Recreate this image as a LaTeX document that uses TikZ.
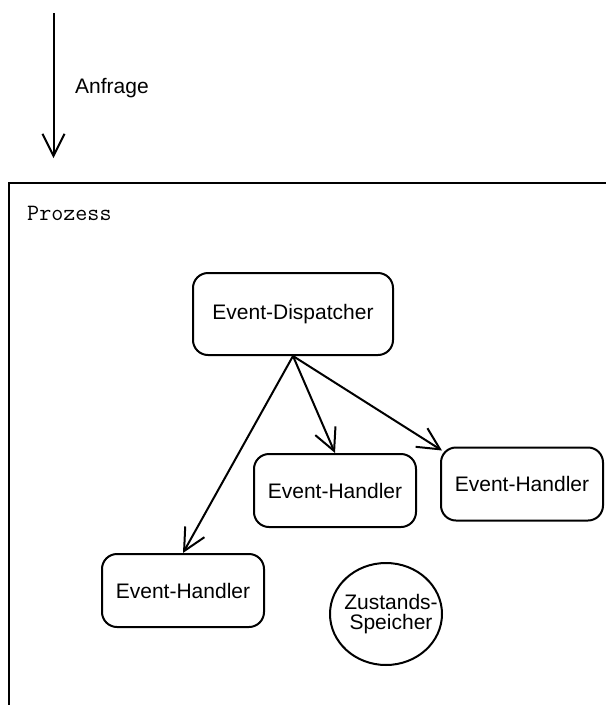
\documentclass[tikz,border=0pt]{standalone}
\usepackage{fontspec}
\setmainfont{Liberation Sans}
\usetikzlibrary{arrows.meta,shapes.geometric}

\begin{document}
\begin{tikzpicture}[x=1pt,y=-1pt,
  every node/.style={font=\fontsize{21}{20}\selectfont},
  handlerbox/.style={draw,line width=2pt,rounded corners=15pt,
    minimum width=162pt,minimum height=73pt,inner sep=0pt},
  storebox/.style={draw,line width=2pt,ellipse,minimum width=112pt,
    minimum height=102pt,inner sep=0pt},
  flow/.style={line width=2pt,-{Straight Barb[length=22pt,width=22pt,line width=2pt]}},
  frameline/.style={line width=2.6pt}]
  \useasboundingbox (0,0) rectangle (606,705);

  % incoming request
  \coordinate (reqtop) at (53.5,13);
  \coordinate (reqtip) at (53.5,158);
  \draw[flow] (reqtop) -- (reqtip);
  \node[anchor=base west,inner sep=0pt] (reqlabel) at (75,93) {Anfrage};

  % process frame
  \draw[frameline] (9,705) -- (9,183) -- (606,183);
  \node[anchor=base west,inner sep=0pt,font=\ttfamily\fontsize{23.4}{20}\selectfont]
    (proc) at (27,220) {Prozess};

  % dispatcher and handlers
  \node[handlerbox,minimum width=200pt,minimum height=82pt] (disp) at (293,314) {Event-Dispatcher};
  \node[handlerbox] (hmid) at (335,490.5) {Event-Handler};
  \node[handlerbox] (hright) at (522,484) {Event-Handler};
  \node[handlerbox] (hleft) at (183,590.5) {Event-Handler};

  % state store
  \node[storebox] (store) at (386,614) {};
  \node[align=center,inner sep=0pt] (storetext) at ([xshift=5pt]store.center) {Zustands-\\Speicher};

  % dispatch arrows
  \draw[flow] (disp.south) -- (hleft.north);
  \draw[flow] (disp.south) -- (hmid.north);
  \draw[flow] (disp.south) -- ([shift={(2pt,-4pt)}]hright.north west);
\end{tikzpicture}
\end{document}
